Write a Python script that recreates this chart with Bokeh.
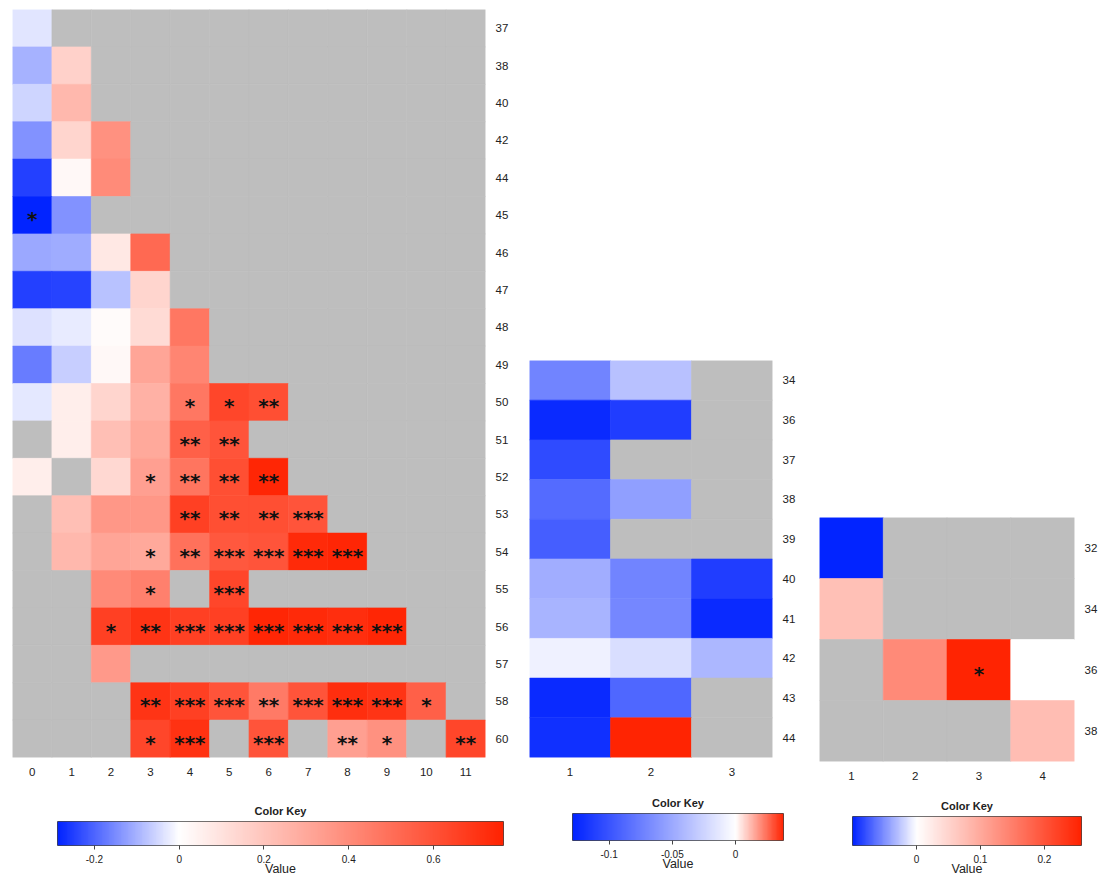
import numpy as np
from bokeh.plotting import figure
from bokeh.models import LinearColorMapper, FixedTicker, ColumnDataSource, FactorRange, Range1d
from bokeh.layouts import row, column
from bokeh.embed import file_html
from bokeh.resources import INLINE
from bokeh.core.properties import value

NA = None

# ---------------- left panel ----------------
left_cols = [str(i) for i in range(12)]
left_rows = ["37", "38", "40", "42", "44", "45", "46", "47", "48", "49",
             "50", "51", "52", "53", "54", "55", "56", "57", "58", "60"]
left_values = [
    [-0.035, NA, NA, NA, NA, NA, NA, NA, NA, NA, NA, NA],
    [-0.098, 0.16, NA, NA, NA, NA, NA, NA, NA, NA, NA, NA],
    [-0.053, 0.245, NA, NA, NA, NA, NA, NA, NA, NA, NA, NA],
    [-0.143, 0.145, 0.38, NA, NA, NA, NA, NA, NA, NA, NA, NA],
    [-0.25, 0.024, 0.40, NA, NA, NA, NA, NA, NA, NA, NA, NA],
    [-0.285, -0.143, NA, NA, NA, NA, NA, NA, NA, NA, NA, NA],
    [-0.114, -0.107, 0.08, 0.52, NA, NA, NA, NA, NA, NA, NA, NA],
    [-0.25, -0.245, -0.08, 0.145, NA, NA, NA, NA, NA, NA, NA, NA],
    [-0.038, -0.027, 0.017, 0.128, 0.47, NA, NA, NA, NA, NA, NA, NA],
    [-0.17, -0.065, 0.024, 0.31, 0.42, NA, NA, NA, NA, NA, NA, NA],
    [-0.03, 0.06, 0.145, 0.27, 0.47, 0.64, 0.61, NA, NA, NA, NA, NA],
    [NA, 0.06, 0.22, 0.30, 0.55, 0.59, NA, NA, NA, NA, NA, NA],
    [0.06, NA, 0.135, 0.33, 0.48, 0.61, 0.75, NA, NA, NA, NA, NA],
    [NA, 0.22, 0.36, 0.36, 0.66, 0.61, 0.61, 0.59, NA, NA, NA, NA],
    [NA, 0.245, 0.31, 0.30, 0.49, 0.58, 0.59, 0.74, 0.75, NA, NA, NA],
    [NA, NA, 0.405, 0.44, NA, 0.64, NA, NA, NA, NA, NA, NA],
    [NA, NA, 0.66, 0.70, 0.66, 0.66, 0.75, 0.74, 0.72, 0.75, NA, NA],
    [NA, NA, 0.35, NA, NA, NA, NA, NA, NA, NA, NA, NA],
    [NA, NA, NA, 0.70, 0.66, 0.59, 0.46, 0.59, 0.72, 0.70, 0.55, NA],
    [NA, NA, NA, 0.64, 0.71, NA, 0.59, NA, 0.33, 0.38, NA, 0.64],
]
left_sig = [
    [0, 0, 0, 0, 0, 0, 0, 0, 0, 0, 0, 0],
    [0, 0, 0, 0, 0, 0, 0, 0, 0, 0, 0, 0],
    [0, 0, 0, 0, 0, 0, 0, 0, 0, 0, 0, 0],
    [0, 0, 0, 0, 0, 0, 0, 0, 0, 0, 0, 0],
    [0, 0, 0, 0, 0, 0, 0, 0, 0, 0, 0, 0],
    [1, 0, 0, 0, 0, 0, 0, 0, 0, 0, 0, 0],
    [0, 0, 0, 0, 0, 0, 0, 0, 0, 0, 0, 0],
    [0, 0, 0, 0, 0, 0, 0, 0, 0, 0, 0, 0],
    [0, 0, 0, 0, 0, 0, 0, 0, 0, 0, 0, 0],
    [0, 0, 0, 0, 0, 0, 0, 0, 0, 0, 0, 0],
    [0, 0, 0, 0, 1, 1, 2, 0, 0, 0, 0, 0],
    [0, 0, 0, 0, 2, 2, 0, 0, 0, 0, 0, 0],
    [0, 0, 0, 1, 2, 2, 2, 0, 0, 0, 0, 0],
    [0, 0, 0, 0, 2, 2, 2, 3, 0, 0, 0, 0],
    [0, 0, 0, 1, 2, 3, 3, 3, 3, 0, 0, 0],
    [0, 0, 0, 1, 0, 3, 0, 0, 0, 0, 0, 0],
    [0, 0, 1, 2, 3, 3, 3, 3, 3, 3, 0, 0],
    [0, 0, 0, 0, 0, 0, 0, 0, 0, 0, 0, 0],
    [0, 0, 0, 2, 3, 3, 2, 3, 3, 3, 1, 0],
    [0, 0, 0, 1, 3, 0, 3, 0, 2, 1, 0, 2],
]
left_key_range = [-0.287, 0.765]
left_key_ticks = [-0.2, 0, 0.2, 0.4, 0.6]
left_key_labels = ["-0.2", "0", "0.2", "0.4", "0.6"]

# ---------------- middle panel ----------------
mid_cols = ["1", "2", "3"]
mid_rows = ["34", "36", "37", "38", "39", "40", "41", "42", "43", "44"]
mid_values = [
    [-0.072, -0.036, NA],
    [-0.124, -0.113, NA],
    [-0.105, NA, NA],
    [-0.086, -0.056, NA],
    [-0.094, NA, NA],
    [-0.048, -0.072, -0.113],
    [-0.044, -0.070, -0.124],
    [-0.008, -0.019, -0.042],
    [-0.124, -0.089, NA],
    [-0.121, 0.038, NA],
]
mid_sig = [[0, 0, 0] for _ in mid_rows]
mid_key_range = [-0.129, 0.038]
mid_key_ticks = [-0.1, -0.05, 0]
mid_key_labels = ["-0.1", "-0.05", "0"]

# ---------------- right panel ----------------
right_cols = ["1", "2", "3", "4"]
right_rows = ["32", "34", "36", "38"]
right_values = [
    [-0.099, NA, NA, NA],
    [0.074, NA, NA, NA],
    [NA, 0.137, 0.256, 0.0],
    [NA, NA, NA, 0.077],
]
right_sig = [
    [0, 0, 0, 0],
    [0, 0, 0, 0],
    [0, 0, 1, 0],
    [0, 0, 0, 0],
]
right_key_range = [-0.1, 0.258]
right_key_ticks = [0, 0.1, 0.2]
right_key_labels = ["0", "0.1", "0.2"]

BLUE = np.array([0, 34, 255], dtype=float)
WHITE = np.array([255, 255, 255], dtype=float)
RED = np.array([255, 34, 0], dtype=float)
GREY = "#BEBEBE"
FONT = "Liberation Sans"
TXT = "#222222"


def make_mapper(lo, hi, n=256):
    pal = []
    for i in range(n):
        v = lo + (i + 0.5) * (hi - lo) / n
        if v < 0:
            t = v / lo
            c = WHITE * (1 - t) + BLUE * t
        else:
            t = v / hi
            c = WHITE * (1 - t) + RED * t
        c = np.clip(np.round(c), 0, 255).astype(int)
        pal.append("#%02x%02x%02x" % tuple(c))
    return LinearColorMapper(palette=pal, low=lo, high=hi, nan_color=GREY)


def heat(cols, rows, vals, sig, rng, fw, fh, bl, bt, br, bb):
    mapper = make_mapper(rng[0], rng[1])
    xs, ys, vs, ss = [], [], [], []
    for i, r in enumerate(rows):
        for j, c in enumerate(cols):
            xs.append(c)
            ys.append(r)
            v = vals[i][j]
            vs.append(np.nan if v is None else v)
            ss.append("*" * sig[i][j])
    src = ColumnDataSource(dict(x=xs, y=ys, v=np.array(vs, dtype=float), s=ss))
    p = figure(x_range=FactorRange(*cols), y_range=FactorRange(*rows[::-1]),
               width=bl + fw + br, height=bt + fh + bb,
               min_border_left=bl, min_border_top=bt, min_border_right=br, min_border_bottom=bb,
               toolbar_location=None, output_backend="svg", y_axis_location="right")
    p.rect(x="x", y="y", width=1, height=1, source=src,
           fill_color={"field": "v", "transform": mapper},
           line_color={"field": "v", "transform": mapper}, line_width=0.6)
    p.text(x="x", y="y", text="s", source=src, text_font=value("DejaVu Sans"),
           text_font_size="20px", text_font_style="bold", text_align="center",
           text_baseline="middle", y_offset=4, text_color="#111111")
    p.grid.visible = False
    p.outline_line_color = None
    p.x_range.range_padding = 0
    p.y_range.range_padding = 0
    for ax in (p.xaxis[0], p.yaxis[0]):
        ax.axis_line_color = None
        ax.major_tick_line_color = None
        ax.minor_tick_line_color = None
        ax.major_label_text_font = FONT
        ax.major_label_text_font_size = "11.5px"
        ax.major_label_text_color = TXT
        ax.major_label_standoff = 4
    return p


def key(rng, ticks, labels, w, h, bl, bt, br, bb):
    lo, hi = rng
    mapper = make_mapper(lo, hi)
    p = figure(x_range=Range1d(lo, hi), y_range=Range1d(0, 1), width=w, height=h,
               min_border_left=bl, min_border_top=bt, min_border_right=br, min_border_bottom=bb,
               toolbar_location=None, output_backend="svg", title="Color Key",
               x_axis_label="Value")
    p.image(image=[np.linspace(lo, hi, 512).reshape(1, -1)], x=lo, y=0, dw=hi - lo, dh=1,
            color_mapper=mapper)
    p.yaxis.visible = False
    p.grid.visible = False
    p.outline_line_color = "#444444"
    p.title.align = "center"
    p.title.text_font = FONT
    p.title.text_font_size = "11px"
    p.title.text_font_style = "bold"
    p.title.text_color = TXT
    ax = p.xaxis[0]
    ax.ticker = FixedTicker(ticks=ticks)
    ax.major_label_overrides = {t: l for t, l in zip(ticks, labels)}
    ax.axis_line_color = None
    ax.major_tick_out = 4
    ax.major_tick_in = 0
    ax.major_tick_line_color = "#444444"
    ax.minor_tick_line_color = None
    ax.major_label_text_font = FONT
    ax.major_label_text_font_size = "10px"
    ax.major_label_text_color = TXT
    ax.major_label_standoff = 5
    ax.axis_label_text_font = FONT
    ax.axis_label_text_font_size = "12.5px"
    ax.axis_label_text_font_style = "normal"
    ax.axis_label_text_color = TXT
    ax.axis_label_standoff = -4
    return p


h1 = heat(left_cols, left_rows, left_values, left_sig, left_key_range, 473, 748, 12, 9, 35, 26)
h2 = heat(mid_cols, mid_rows, mid_values, mid_sig, mid_key_range, 243, 397, 9, 360, 30, 26)
h3 = heat(right_cols, right_rows, right_values, right_sig, right_key_range, 263, 244, 17, 517, 18, 22)

k1 = key(left_key_range, left_key_ticks, left_key_labels, 520, 95, 57, 38, 17, 31)
k2 = key(mid_key_range, mid_key_ticks, mid_key_labels, 282, 95, 52, 30, 19, 38)
k3 = key(right_key_range, right_key_ticks, right_key_labels, 298, 95, 50, 33, 19, 32)

layout = row(column(row(h1), row(k1)), column(row(h2), row(k2)), column(row(h3), row(k3)))

open("out.html", "w").write(file_html(layout, INLINE))
